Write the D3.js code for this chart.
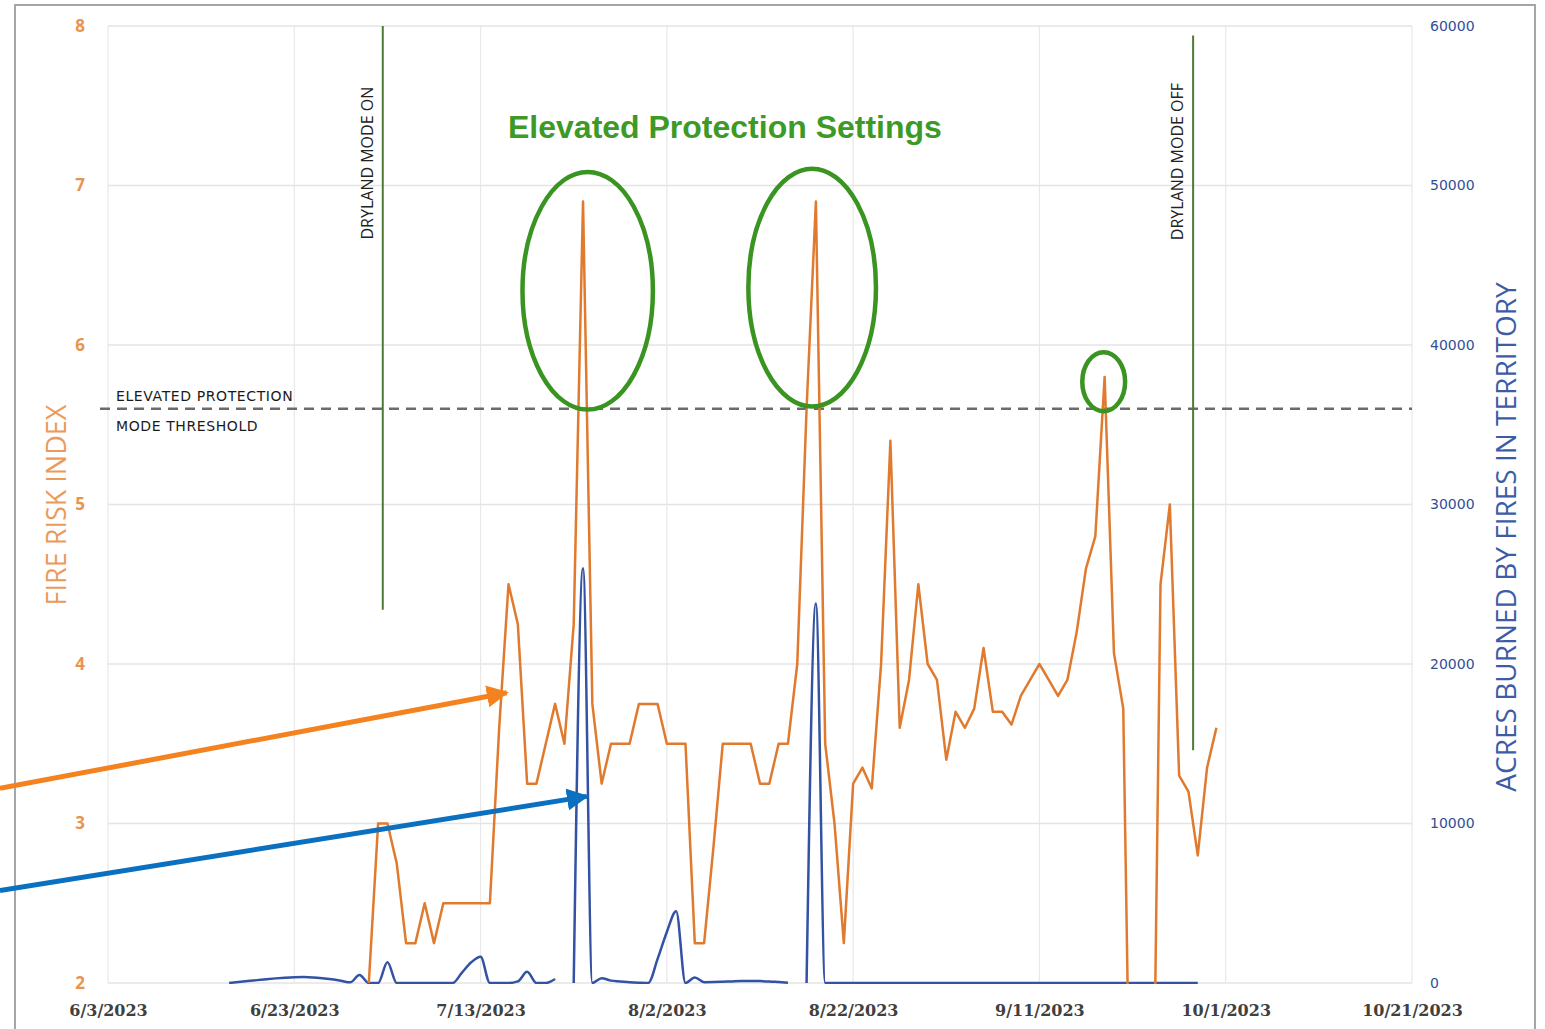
<!DOCTYPE html>
<html>
<head>
<meta charset="utf-8">
<script src="https://cdn.jsdelivr.net/npm/d3@7"></script>
<style>
  body { margin: 0; background: #fff; }
  svg { display: block; }
</style>
</head>
<body>
<svg id="chart" width="1545" height="1029"></svg>
<script>
// x axis ticks (every 20 days)
const tickDates = ['2023-06-03', '2023-06-23', '2023-07-13', '2023-08-02', '2023-08-22', '2023-09-11', '2023-10-01', '2023-10-21'];
const riskTicks = [2, 3, 4, 5, 6, 7, 8];
const acresTicks = [0, 10000, 20000, 30000, 40000, 50000, 60000];

// daily fire risk index, starting 7/1/2023
const riskStart = '2023-07-01';
const riskIndex = [
  2.0, 3.0, 3.0, 2.75, 2.25, 2.25, 2.5, 2.25, 2.5, 2.5,
  2.5, 2.5, 2.5, 2.5, 3.6, 4.5, 4.25, 3.25, 3.25, 3.5,
  3.75, 3.5, 4.25, 6.9, 3.75, 3.25, 3.5, 3.5, 3.5, 3.75,
  3.75, 3.75, 3.5, 3.5, 3.5, 2.25, 2.25, 2.85, 3.5, 3.5,
  3.5, 3.5, 3.25, 3.25, 3.5, 3.5, 4.0, 5.6, 6.9, 3.5,
  3.0, 2.25, 3.25, 3.35, 3.22, 4.0, 5.4, 3.6, 3.9, 4.5,
  4.0, 3.9, 3.4, 3.7, 3.6, 3.72, 4.1, 3.7, 3.7, 3.62,
  3.8, 3.9, 4.0, 3.9, 3.8, 3.9, 4.2, 4.6, 4.8, 5.8,
  4.07, 3.72, 0, 0, 0, 4.5, 5.0, 3.3, 3.2, 2.8,
  3.35, 3.6
];

// daily acres burned, starting 6/16/2023 (null = no report)
const acresStart = '2023-06-16';
const acresBurned = [
  0, 60, 120, 180, 240, 290, 330, 360, 370, 350,
  300, 230, 140, 40, 500, 0, 0, 1300, 0, 0,
  0, 0, 0, 0, 0, 650, 1300, 1650, 0, 0,
  0, 100, 700, 0, 0, 250, null, 0, 26000, 0,
  300, 150, 100, 50, 20, 0, 1500, 3200, 4500, 0,
  350, 50, 60, 80, 100, 120, 130, 120, 100, 60,
  20, null, 0, 23800, 0, 0, 0, 0, 0, 0,
  0, 0, 0, 0, 0, 0, 0, 0, 0, 0,
  0, 0, 0, 0, 0, 0, 0, 0, 0, 0,
  0, 0, 0, 0, 0, 0, 0, 0, 0, 0,
  0, 0, 0, 0, 0
];

const thresholdValue = 5.6;
const drylandMarks = [
  { label: 'DRYLAND MODE ON', day: 29.5, top: 8, bottom: 4.34, textAt: 7.14 },
  { label: 'DRYLAND MODE OFF', day: 116.5, top: 7.94, bottom: 3.46, textAt: 7.15 }
];

const parse = d3.utcParse('%Y-%m-%d');

const riskData = riskIndex.map((v, i) => ({ date: d3.utcDay.offset(parse(riskStart), i), value: v }));
const acresData = acresBurned.map((v, i) => ({ date: d3.utcDay.offset(parse(acresStart), i), value: v }));

const margin = { top: 26, right: 133, bottom: 46, left: 108 };
const width = 1545, height = 1029;
const chartWidth = width - margin.left - margin.right;
const chartHeight = height - margin.top - margin.bottom;

const xScale = d3.scaleUtc()
  .domain([parse(tickDates[0]), parse(tickDates[tickDates.length - 1])])
  .range([0, chartWidth]);
const yScale = d3.scaleLinear().domain([2, 8]).range([chartHeight, 0]);
const y2Scale = d3.scaleLinear().domain([0, 60000]).range([chartHeight, 0]);

// fractional day offset from the first tick date
const day = (n) => new Date(+parse(tickDates[0]) + n * 864e5);

const svg = d3.select('#chart');

const defs = svg.append('defs');
defs.append('clipPath').attr('id', 'plot-clip')
  .append('rect').attr('width', chartWidth).attr('height', chartHeight + 1);

[['orange-head', '#f3821f'], ['blue-head', '#0b70bf']].forEach(([id, color]) => {
  defs.append('marker')
    .attr('id', id)
    .attr('viewBox', '0 0 10 10')
    .attr('refX', 9).attr('refY', 5)
    .attr('markerWidth', 4.4).attr('markerHeight', 4.4)
    .attr('markerUnits', 'strokeWidth')
    .attr('orient', 'auto')
    .append('path').attr('d', 'M0,0 L10,5 L0,10 z').attr('fill', color);
});

// outer frame
svg.append('rect')
  .attr('x', 15).attr('y', 5)
  .attr('width', 1520).attr('height', 1040)
  .attr('fill', 'none')
  .attr('stroke', '#a6a6a6')
  .attr('stroke-width', 2);

const g = svg.append('g').attr('transform', `translate(${margin.left},${margin.top})`);

// gridlines
g.append('g').selectAll('line')
  .data(riskTicks).enter().append('line')
  .attr('x1', 0).attr('x2', chartWidth)
  .attr('y1', (d) => yScale(d)).attr('y2', (d) => yScale(d))
  .attr('stroke', '#e4e4e4').attr('stroke-width', 1.5);

g.append('g').selectAll('line')
  .data(tickDates).enter().append('line')
  .attr('x1', (d) => xScale(parse(d))).attr('x2', (d) => xScale(parse(d)))
  .attr('y1', 0).attr('y2', chartHeight)
  .attr('stroke', '#e8e8e8').attr('stroke-width', 1.2);

// axes
const xAxis = d3.axisBottom(xScale)
  .tickValues(tickDates.map(parse))
  .tickFormat(d3.utcFormat('%-m/%-d/%Y'))
  .tickSize(0).tickPadding(22);
g.append('g')
  .attr('class', 'x axis')
  .attr('transform', `translate(0,${chartHeight})`)
  .call(xAxis)
  .call((s) => s.select('.domain').remove())
  .selectAll('text')
  .attr('fill', '#404040')
  .style('font', 'bold 16px "DejaVu Serif", serif');

const yAxis = d3.axisLeft(yScale).tickValues(riskTicks).tickFormat(d3.format('d')).tickSize(0).tickPadding(20);
g.append('g')
  .attr('class', 'y axis')
  .call(yAxis)
  .call((s) => s.select('.domain').remove())
  .selectAll('text')
  .attr('text-anchor', 'middle')
  .attr('x', -28)
  .attr('fill', '#e8944f')
  .style('font', 'bold 17px "Open Sans", sans-serif');

const y2Axis = d3.axisRight(y2Scale).tickValues(acresTicks).tickFormat(d3.format('d')).tickSize(0).tickPadding(18);
g.append('g')
  .attr('class', 'y2 axis')
  .attr('transform', `translate(${chartWidth},0)`)
  .call(y2Axis)
  .call((s) => s.select('.domain').remove())
  .selectAll('text')
  .attr('fill', '#2f4f99')
  .style('font', '14px "DejaVu Sans", sans-serif');

// axis titles
svg.append('text')
  .attr('transform', 'translate(55,505) rotate(-90)')
  .attr('text-anchor', 'middle')
  .attr('dominant-baseline', 'central')
  .attr('fill', '#ec9a5c')
  .style('font', '27px "Open Sans", sans-serif')
  .text('FIRE RISK INDEX');

svg.append('text')
  .attr('transform', 'translate(1505,537) rotate(-90)')
  .attr('text-anchor', 'middle')
  .attr('dominant-baseline', 'central')
  .attr('fill', '#3d5ca8')
  .style('font', '28px "Open Sans", sans-serif')
  .text('ACRES BURNED BY FIRES IN TERRITORY');

// threshold
g.append('line')
  .attr('x1', -8).attr('x2', chartWidth)
  .attr('y1', yScale(thresholdValue)).attr('y2', yScale(thresholdValue))
  .attr('stroke', '#6b6b6b')
  .attr('stroke-width', 2.5)
  .attr('stroke-dasharray', '10,7');

const thresholdLabel = g.append('text')
  .attr('fill', '#1a1a1a')
  .style('font', '14px "DejaVu Sans", sans-serif')
  .style('letter-spacing', '0.6px');
thresholdLabel.append('tspan').attr('x', 8).attr('y', yScale(thresholdValue) - 8).text('ELEVATED PROTECTION');
thresholdLabel.append('tspan').attr('x', 8).attr('y', yScale(thresholdValue) + 22).text('MODE THRESHOLD');

// dryland mode markers
drylandMarks.forEach((m) => {
  const x = xScale(day(m.day));
  g.append('line')
    .attr('x1', x).attr('x2', x)
    .attr('y1', yScale(m.top)).attr('y2', yScale(m.bottom))
    .attr('stroke', '#4d7a34')
    .attr('stroke-width', 2);
  g.append('text')
    .attr('transform', `translate(${x - 16},${yScale(m.textAt)}) rotate(-90)`)
    .attr('text-anchor', 'middle')
    .attr('dominant-baseline', 'central')
    .attr('fill', '#222')
    .style('font', '16px "Open Sans", sans-serif')
    .text(m.label);
});

const plot = g.append('g').attr('clip-path', 'url(#plot-clip)');

const acresLine = d3.line()
  .defined((d) => d.value !== null)
  .x((d) => xScale(d.date))
  .y((d) => y2Scale(d.value))
  .curve(d3.curveMonotoneX);

plot.append('path')
  .datum(acresData)
  .attr('fill', 'none')
  .attr('stroke', '#3352a3')
  .attr('stroke-width', 2.5)
  .attr('d', acresLine);

const riskLine = d3.line()
  .x((d) => xScale(d.date))
  .y((d) => yScale(d.value));

plot.append('path')
  .datum(riskData)
  .attr('fill', 'none')
  .attr('stroke', '#e07a2e')
  .attr('stroke-width', 2.5)
  .attr('stroke-linejoin', 'round')
  .attr('d', riskLine);

// annotations
const pxPerDay = xScale(day(1)) - xScale(day(0));
const pxPerUnit = yScale(2) - yScale(3);

const rings = [
  { day: 51.5, value: 6.34, rxDays: 7.0, ryUnits: 0.745 },
  { day: 75.6, value: 6.36, rxDays: 6.85, ryUnits: 0.745 },
  { day: 106.9, value: 5.77, rxDays: 2.3, ryUnits: 0.185 }
];
g.selectAll('.ring')
  .data(rings).enter().append('ellipse')
  .attr('class', 'ring')
  .attr('cx', (d) => xScale(day(d.day)))
  .attr('cy', (d) => yScale(d.value))
  .attr('rx', (d) => d.rxDays * pxPerDay)
  .attr('ry', (d) => d.ryUnits * pxPerUnit)
  .attr('fill', 'none')
  .attr('stroke', '#3a9421')
  .attr('stroke-width', 4.5);

svg.append('text')
  .attr('x', 508).attr('y', 138)
  .attr('fill', '#3d9a26')
  .style('font', 'bold 32px "Liberation Sans", Arial, sans-serif')
  .text('Elevated Protection Settings');

const arrows = [
  { from: [-11.6, 3.22], to: [42.8, 3.82], color: '#f3821f', head: 'orange-head' },
  { from: [-11.6, 2.58], to: [51.4, 3.17], color: '#0b70bf', head: 'blue-head' }
];
g.selectAll('.arrow')
  .data(arrows).enter().append('line')
  .attr('class', 'arrow')
  .attr('x1', (d) => xScale(day(d.from[0])))
  .attr('y1', (d) => yScale(d.from[1]))
  .attr('x2', (d) => xScale(day(d.to[0])))
  .attr('y2', (d) => yScale(d.to[1]))
  .attr('stroke', (d) => d.color)
  .attr('stroke-width', 5)
  .attr('marker-end', (d) => `url(#${d.head})`);
</script>
</body>
</html>
